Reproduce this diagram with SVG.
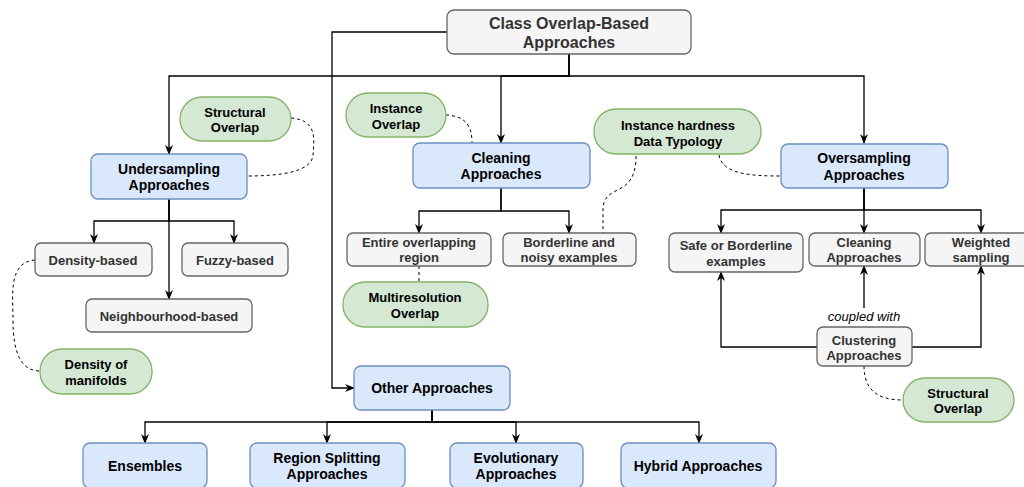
<svg xmlns="http://www.w3.org/2000/svg" width="1024" height="487" viewBox="0 0 1024 487">
<defs>
<marker id="arr" viewBox="0 0 10 10" refX="9" refY="5" markerWidth="10" markerHeight="10" markerUnits="userSpaceOnUse" orient="auto">
<path d="M0,1 L10,5 L0,9 L3,5 z" fill="#000"/>
</marker>
<style>
.gray{fill:#f5f5f5;stroke:#666;stroke-width:1.3}
.blue{fill:#dae8fc;stroke:#6c8ebf;stroke-width:1.3}
.green{fill:#d5e8d4;stroke:#82b366;stroke-width:1.3}
text{font-family:"Liberation Sans",Arial,sans-serif;font-weight:bold;text-anchor:middle}
.tg{font-size:13px;fill:#333}
.tb{font-size:14px;fill:#000}
.tn{font-size:13px;fill:#000}
.tt{font-size:16px;fill:#333}
.ti{font-size:13px;font-style:italic;font-weight:normal;fill:#000}
.ln{fill:none;stroke:#000;stroke-width:1.3}
.ar{marker-end:url(#arr)}
.ds{fill:none;stroke:#000;stroke-width:1;stroke-dasharray:3,3}
</style>
</defs>
<g id="connectors">
<path class="ln ar" d="M569,54 V76 H169 V154"/>
<path class="ln ar" d="M569,54 V76 H501 V143"/>
<path class="ln ar" d="M569,54 V76 H864 V143"/>
<path class="ln ar" d="M447,32 H332 V388 H354"/>
<path class="ln ar" d="M169,199 V221 H94 V243"/>
<path class="ln ar" d="M169,199 V221 H234 V243"/>
<path class="ln ar" d="M169,199 V299"/>
<path class="ln ar" d="M501,188 V211 H419 V233"/>
<path class="ln ar" d="M501,188 V211 H569 V233"/>
<path class="ln ar" d="M864,188 V210 H721 V233"/>
<path class="ln ar" d="M864,188 V233"/>
<path class="ln ar" d="M864,188 V210 H981 V233"/>
<path class="ln ar" d="M432,410 V422 H145 V443"/>
<path class="ln ar" d="M432,410 V422 H327 V443"/>
<path class="ln ar" d="M432,410 V422 H516 V443"/>
<path class="ln ar" d="M432,410 V422 H699 V443"/>
<path class="ln ar" d="M817,347 H721 V272"/>
<path class="ln ar" d="M912,347 H981 V266"/>
<path class="ln ar" d="M864,308 V266"/>
<path class="ds" d="M291,118 C318,120 314,140 313,155 C312,172 280,176 247,176"/>
<path class="ds" d="M446,115 C466,116 472,126 472,143"/>
<path class="ds" d="M636,156 C636,200 603,182 603,210 L603,233"/>
<path class="ds" d="M719,155 C722,174 750,176 781,176"/>
<path class="ds" d="M35,260 C8,262 13,295 13,320 C13,355 22,371 40,371"/>
<path class="ds" d="M419,266 V282"/>
<path class="ds" d="M864,366 C864,392 880,400 903,400"/>
<text class="ti" x="864" y="321">coupled with</text>
</g>
<g id="root"><rect class="gray" x="447" y="10" width="244" height="44" rx="7"/><text class="tt" x="569" y="29">Class Overlap-Based</text><text class="tt" x="569" y="48">Approaches</text></g>
<g id="undersampling"><rect class="blue" x="91" y="154" width="156" height="45" rx="7"/><text class="tb" x="169" y="174">Undersampling</text><text class="tb" x="169" y="190">Approaches</text></g>
<g id="structural1"><rect class="green" x="180" y="97" width="111" height="44" rx="22"/><text class="tn" x="235" y="117">Structural</text><text class="tn" x="235" y="132">Overlap</text></g>
<g id="instance"><rect class="green" x="346" y="93" width="100" height="44" rx="22"/><text class="tn" x="396" y="113">Instance</text><text class="tn" x="396" y="129">Overlap</text></g>
<g id="cleaning"><rect class="blue" x="413" y="143" width="177" height="45" rx="7"/><text class="tb" x="501" y="163">Cleaning</text><text class="tb" x="501" y="179">Approaches</text></g>
<g id="hardness"><rect class="green" x="594" y="109" width="167" height="45" rx="22"/><text class="tn" x="678" y="130">Instance hardness</text><text class="tn" x="678" y="146">Data Typology</text></g>
<g id="oversampling"><rect class="blue" x="781" y="144" width="167" height="44" rx="7"/><text class="tb" x="864" y="163">Oversampling</text><text class="tb" x="864" y="180">Approaches</text></g>
<g id="density"><rect class="gray" x="35" y="243" width="117" height="33" rx="6"/><text class="tg" x="93" y="265">Density-based</text></g>
<g id="fuzzy"><rect class="gray" x="182" y="243" width="106" height="33" rx="6"/><text class="tg" x="235" y="265">Fuzzy-based</text></g>
<g id="neighbourhood"><rect class="gray" x="86" y="299" width="166" height="33" rx="6"/><text class="tg" x="169" y="321">Neighbourhood-based</text></g>
<g id="manifolds"><rect class="green" x="40" y="349" width="112" height="45" rx="22"/><text class="tn" x="96" y="369">Density of</text><text class="tn" x="96" y="385">manifolds</text></g>
<g id="entire"><rect class="gray" x="347" y="233" width="144" height="33" rx="6"/><text class="tg" x="419" y="247">Entire overlapping</text><text class="tg" x="419" y="262">region</text></g>
<g id="borderline"><rect class="gray" x="503" y="233" width="133" height="33" rx="6"/><text class="tg" x="569" y="247">Borderline and</text><text class="tg" x="569" y="262">noisy examples</text></g>
<g id="multires"><rect class="green" x="343" y="282" width="145" height="45" rx="22"/><text class="tn" x="415" y="302">Multiresolution</text><text class="tn" x="415" y="318">Overlap</text></g>
<g id="safe"><rect class="gray" x="669" y="233" width="134" height="39" rx="6"/><text class="tg" x="736" y="250">Safe or Borderline</text><text class="tg" x="736" y="266">examples</text></g>
<g id="cleaning2"><rect class="gray" x="809" y="233" width="111" height="33" rx="6"/><text class="tg" x="864" y="247">Cleaning</text><text class="tg" x="864" y="262">Approaches</text></g>
<g id="weighted"><rect class="gray" x="925" y="233" width="112" height="33" rx="6"/><text class="tg" x="981" y="247">Weighted</text><text class="tg" x="981" y="262">sampling</text></g>
<g id="clustering"><rect class="gray" x="817" y="327" width="95" height="39" rx="6"/><text class="tg" x="864" y="345">Clustering</text><text class="tg" x="864" y="360">Approaches</text></g>
<g id="structural2"><rect class="green" x="903" y="378" width="111" height="44" rx="22"/><text class="tn" x="958" y="398">Structural</text><text class="tn" x="958" y="413">Overlap</text></g>
<g id="other"><rect class="blue" x="354" y="366" width="156" height="44" rx="7"/><text class="tb" x="432" y="393">Other Approaches</text></g>
<g id="ensembles"><rect class="blue" x="83" y="443" width="124" height="45" rx="7"/><text class="tb" x="145" y="471">Ensembles</text></g>
<g id="region"><rect class="blue" x="250" y="443" width="155" height="45" rx="7"/><text class="tb" x="327" y="463">Region Splitting</text><text class="tb" x="327" y="479">Approaches</text></g>
<g id="evolutionary"><rect class="blue" x="450" y="443" width="133" height="45" rx="7"/><text class="tb" x="516" y="463">Evolutionary</text><text class="tb" x="516" y="479">Approaches</text></g>
<g id="hybrid"><rect class="blue" x="621" y="443" width="155" height="45" rx="7"/><text class="tb" x="698" y="471">Hybrid Approaches</text></g>
</svg>
